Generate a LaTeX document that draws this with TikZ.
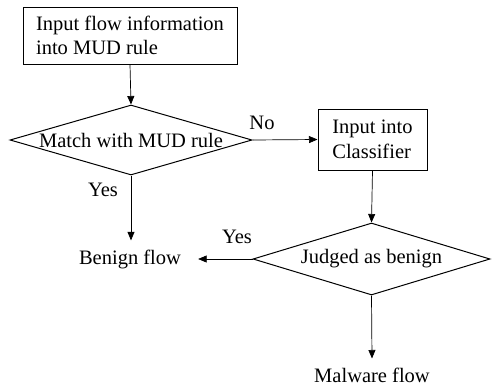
\documentclass[tikz,border=0pt]{standalone}
\usepackage{fontspec}
\setmainfont{Liberation Serif}
\usetikzlibrary{arrows.meta,positioning,shapes.geometric}

\begin{document}
\begin{tikzpicture}[
    x=1pt, y=1pt,
    every node/.style={font=\fontsize{20.5}{24.6}\selectfont},
    procbox/.style={draw, line width=1pt, rectangle, align=left},
    decision/.style={draw, line width=1pt, diamond, inner sep=0pt},
    term/.style={inner xsep=17pt, inner ysep=9pt},
    lbl/.style={inner sep=0pt},
    arr/.style={line width=0.7pt, -{Triangle[length=8.5pt,width=7pt]}}
]
\useasboundingbox (0,0) rectangle (492,-388);

% Steps
\node[procbox, minimum width=214pt, minimum height=57pt] (input) at (130,-35.5)
    {Input flow information\\into MUD rule};
\node[decision, minimum width=242pt, minimum height=70pt, aspect=3.46] (match) at (131,-140)
    {Match with MUD rule};
\node[procbox, minimum width=109pt, minimum height=61pt] (classify) at (372.5,-139.5)
    {Input into\\Classifier};
\node[decision, minimum width=237pt, minimum height=72pt, aspect=3.3] (judge) at (371.5,-259)
    {Judged as benign};

% Outcomes
\node[term] (benign) at (130,-259) {Benign flow};
\node[term] (malware) at (372,-375) {Malware flow};

% Branch labels
\node[lbl] (no) at (262,-123) {No};
\node[lbl] (yes1) at (103,-190) {Yes};
\node[lbl] (yes2) at (237,-237) {Yes};

% Connectors
\draw[arr] (input.south) -- (match.north);
\draw[arr] (match.east) -- (classify.west);
\draw[arr] (classify.south) -- (judge.north);
\draw[arr] (match.south) -- (match.south |- benign.north);
\draw[arr] (judge.west) -- (benign.east);
\draw[arr] (judge.south) -- (malware.north);
\end{tikzpicture}
\end{document}
